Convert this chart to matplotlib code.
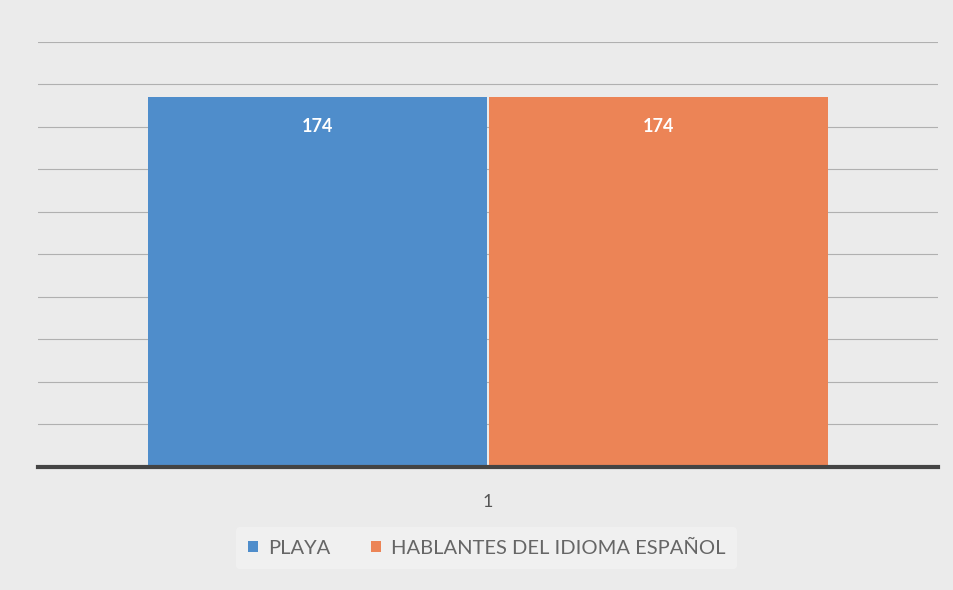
import numpy as np
import matplotlib.pyplot as plt

plt.rcParams['font.family'] = ['Lato', 'DejaVu Sans']

# data
categories = ['1']
series_names = ['PLAYA', 'HABLANTES DEL IDIOMA ESPAÑOL']
series_values = [[174], [174]]
colors = ['#4f8dcb', '#ec8456']

fig = plt.figure(figsize=(9.54, 5.90), dpi=100)
fig.patch.set_facecolor('#ebebeb')
ax = fig.add_axes([0.040, 0.2085, 0.943, 0.7205])
ax.set_facecolor('#ebebeb')

w = 0.377
x = np.arange(len(categories))
offsets = [-w / 2 - 0.001, w / 2 + 0.001]
for vals, name, col, off in zip(series_values, series_names, colors, offsets):
    bars = ax.bar(x + off, vals, width=w, color=col, label=name, zorder=3)
    for b, v in zip(bars, vals):
        ax.text(b.get_x() + b.get_width() / 2, v - 14, str(v), ha='center',
                va='center', color='white', fontsize=13, fontweight='bold',
                zorder=4)

ax.set_xlim(-0.5, 0.5)
ax.set_ylim(0, 200)
ax.set_yticks(np.arange(0, 201, 20))
ax.yaxis.grid(True, color='#b0b0b0', linewidth=0.8, zorder=0)
ax.tick_params(axis='y', left=False, labelleft=False)
ax.tick_params(axis='x', bottom=False, labelsize=13, colors='#555555', pad=16)
ax.set_xticks(x)
ax.set_xticklabels(categories)
for s in ['top', 'right', 'left']:
    ax.spines[s].set_visible(False)
ax.spines['bottom'].set_color('#444444')
ax.spines['bottom'].set_linewidth(3)
ax.spines['bottom'].set_zorder(5)

leg = fig.legend(loc='center', bbox_to_anchor=(0.51, 0.071), ncol=2,
                 frameon=True, fontsize=14.5, handlelength=0.5, handleheight=0.5,
                 columnspacing=2.0, handletextpad=0.5, borderpad=0.6)
leg.get_frame().set_facecolor('#f2f2f2')
leg.get_frame().set_edgecolor('none')
for t in leg.get_texts():
    t.set_color('#666666')

fig.savefig('out.png', dpi=100, facecolor=fig.get_facecolor())
